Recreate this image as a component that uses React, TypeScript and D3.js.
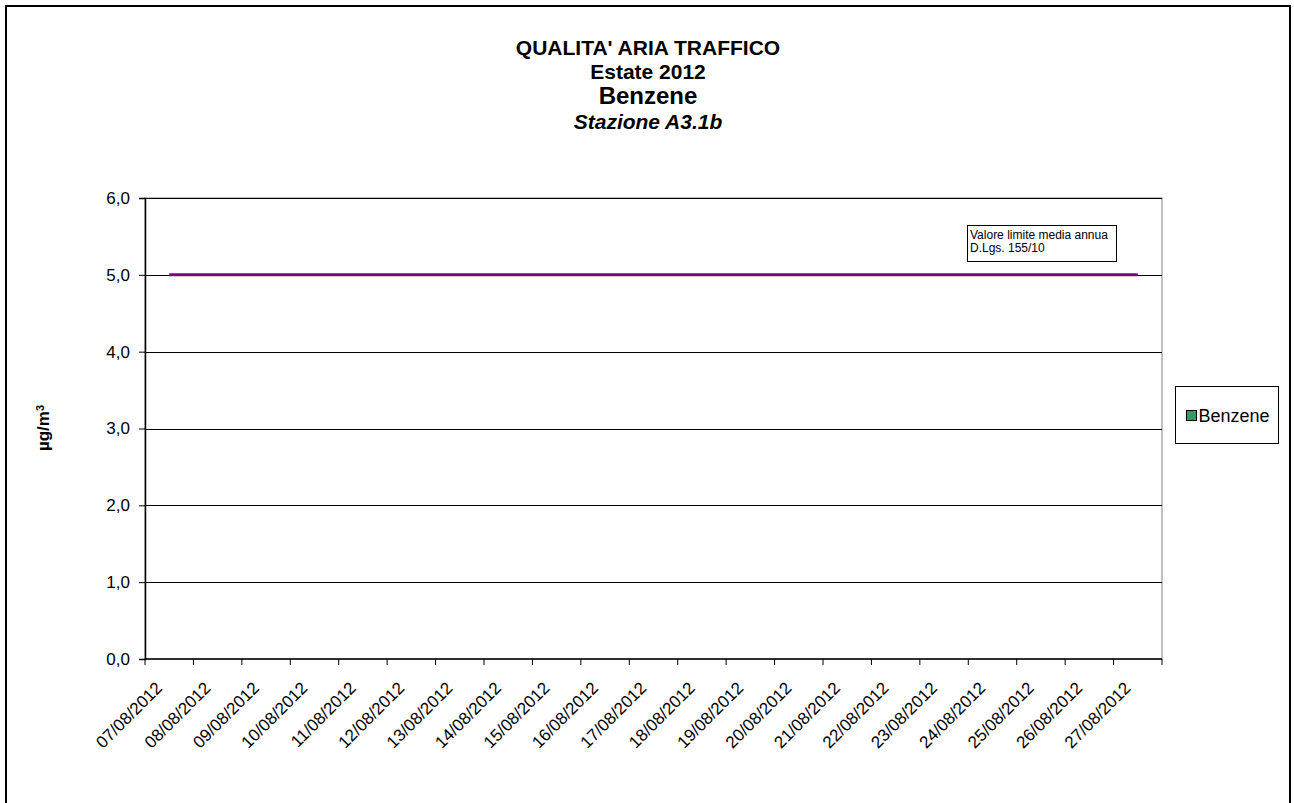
import { useEffect, useRef } from "react";
import * as d3 from "d3";

const dates = [
  "07/08/2012", "08/08/2012", "09/08/2012", "10/08/2012", "11/08/2012",
  "12/08/2012", "13/08/2012", "14/08/2012", "15/08/2012", "16/08/2012",
  "17/08/2012", "18/08/2012", "19/08/2012", "20/08/2012", "21/08/2012",
  "22/08/2012", "23/08/2012", "24/08/2012", "25/08/2012", "26/08/2012",
  "27/08/2012",
];
// no benzene readings are shown in the chart
const benzene: (number | null)[] = dates.map(() => null);
const limitValues = [5, 5, 5, 5, 5, 5, 5, 5, 5, 5, 5, 5, 5, 5, 5, 5, 5, 5, 5, 5, 5];
const yTicks = [0, 1, 2, 3, 4, 5, 6];
const titleLines = ["QUALITA' ARIA TRAFFICO", "Estate 2012", "Benzene", "Stazione A3.1b"];

function App() {
  const svgRef = useRef<SVGSVGElement>(null);

  useEffect(() => {
    const width = 1294;
    const height = 803;
    const margin = { top: 198, right: 132, bottom: 144, left: 145 };
    const font = "Arial, 'Liberation Sans', sans-serif";

    const svg = d3.select(svgRef.current).attr("width", width).attr("height", height);
    svg.selectAll("*").remove();

    // outer frame
    svg
      .append("rect")
      .attr("x", 6)
      .attr("y", 6)
      .attr("width", 1284)
      .attr("height", 810)
      .attr("fill", "white")
      .attr("stroke", "black")
      .attr("stroke-width", 2);

    const x = d3
      .scaleBand()
      .domain(dates)
      .range([margin.left, width - margin.right]);
    const y = d3
      .scaleLinear()
      .domain([0, 6])
      .range([height - margin.bottom, margin.top]);

    // titles
    const titleY = [55, 79, 104, 129];
    const titleSize = [21, 21, 24, 21];
    titleLines.forEach((t, i) => {
      svg
        .append("text")
        .attr("x", 648)
        .attr("y", titleY[i])
        .attr("text-anchor", "middle")
        .style("font-family", font)
        .style("font-weight", "bold")
        .style("font-style", i === 3 ? "italic" : "normal")
        .style("font-size", `${titleSize[i]}px`)
        .text(t);
    });

    // plot border (top/right grey)
    svg
      .append("rect")
      .attr("x", margin.left)
      .attr("y", margin.top)
      .attr("width", width - margin.right - margin.left)
      .attr("height", height - margin.bottom - margin.top)
      .attr("fill", "none")
      .attr("stroke", "#808080")
      .attr("stroke-width", 1);

    // gridlines
    svg
      .selectAll(".grid")
      .data(yTicks.filter((d) => d > 0))
      .enter()
      .append("line")
      .attr("x1", margin.left)
      .attr("x2", width - margin.right)
      .attr("y1", (d) => Math.round(y(d)) + 0.5)
      .attr("y2", (d) => Math.round(y(d)) + 0.5)
      .attr("stroke", "#000")
      .attr("stroke-width", 1);

    // y axis
    const yAxis = svg
      .append("g")
      .attr("transform", `translate(${margin.left},0)`)
      .call(
        d3
          .axisLeft(y)
          .tickValues(yTicks)
          .tickSize(6)
          .tickPadding(9)
          .tickFormat((d) => d3.format(".1f")(d as number).replace(".", ","))
      );
    yAxis.select(".domain").attr("stroke", "#000").attr("stroke-width", 1.5);
    yAxis
      .selectAll("text")
      .style("font-family", font)
      .style("font-size", "17px")
      .attr("fill", "#000");

    // x axis: ticks at category boundaries
    const bottomY = height - margin.bottom;
    svg
      .append("line")
      .attr("x1", margin.left)
      .attr("x2", width - margin.right)
      .attr("y1", bottomY)
      .attr("y2", bottomY)
      .attr("stroke", "#000")
      .attr("stroke-width", 1.5);
    const bounds = [...dates.map((d) => x(d)!), width - margin.right];
    svg
      .selectAll(".xtick")
      .data(bounds)
      .enter()
      .append("line")
      .attr("x1", (d) => d)
      .attr("x2", (d) => d)
      .attr("y1", bottomY)
      .attr("y2", bottomY + 6)
      .attr("stroke", "#000")
      .attr("stroke-width", 1);
    svg
      .selectAll(".xlabel")
      .data(dates)
      .enter()
      .append("text")
      .attr(
        "transform",
        (d) => `translate(${x(d)! + x.bandwidth() / 2 - 6},${bottomY + 30}) rotate(-45)`
      )
      .attr("text-anchor", "end")
      .style("font-family", font)
      .style("font-size", "17px")
      .text((d) => d);

    // benzene bars (no data)
    svg
      .selectAll(".bar")
      .data(dates.filter((_, i) => benzene[i] != null))
      .enter()
      .append("rect")
      .attr("x", (d) => x(d)! + x.bandwidth() * 0.2)
      .attr("width", x.bandwidth() * 0.6)
      .attr("y", (d) => y(benzene[dates.indexOf(d)] as number))
      .attr("height", (d) => y(0) - y(benzene[dates.indexOf(d)] as number))
      .attr("fill", "#339966")
      .attr("stroke", "#000");

    // limit line
    const line = d3
      .line<number>()
      .x((_, i) => x(dates[i])! + x.bandwidth() / 2)
      .y((d) => y(d));
    svg
      .append("path")
      .datum(limitValues)
      .attr("d", line)
      .attr("fill", "none")
      .attr("stroke", "#800080")
      .attr("stroke-width", 3);

    // annotation
    svg
      .append("rect")
      .attr("x", 967.5)
      .attr("y", 225.5)
      .attr("width", 149)
      .attr("height", 36)
      .attr("fill", "white")
      .attr("stroke", "#000")
      .attr("stroke-width", 1);
    ["Valore limite media annua", "D.Lgs. 155/10"].forEach((t, i) => {
      svg
        .append("text")
        .attr("x", 970)
        .attr("y", 239 + i * 13)
        .style("font-family", font)
        .style("font-size", "12px")
        .text(t);
    });

    // y label
    const yl = svg
      .append("text")
      .attr("transform", "translate(49,428) rotate(-90)")
      .attr("text-anchor", "middle")
      .style("font-family", font)
      .style("font-weight", "bold")
      .style("font-size", "17px");
    yl.append("tspan").text("µg/m");
    yl.append("tspan").attr("dy", "-0.5em").style("font-size", "11px").text("3");

    // legend
    const legend = svg.append("g").attr("transform", "translate(1175.5,386.5)");
    legend
      .append("rect")
      .attr("width", 103)
      .attr("height", 57)
      .attr("fill", "white")
      .attr("stroke", "#000")
      .attr("stroke-width", 1);
    legend
      .append("rect")
      .attr("x", 11)
      .attr("y", 24)
      .attr("width", 10)
      .attr("height", 10)
      .attr("fill", "#339966")
      .attr("stroke", "#000");
    legend
      .append("text")
      .attr("x", 23)
      .attr("y", 35)
      .style("font-family", font)
      .style("font-size", "18px")
      .text("Benzene");
  }, []);

  return (
    <div style={{ position: "absolute", left: 0, top: 0 }}>
      <svg ref={svgRef} style={{ display: "block" }}></svg>
    </div>
  );
}

export default App;
